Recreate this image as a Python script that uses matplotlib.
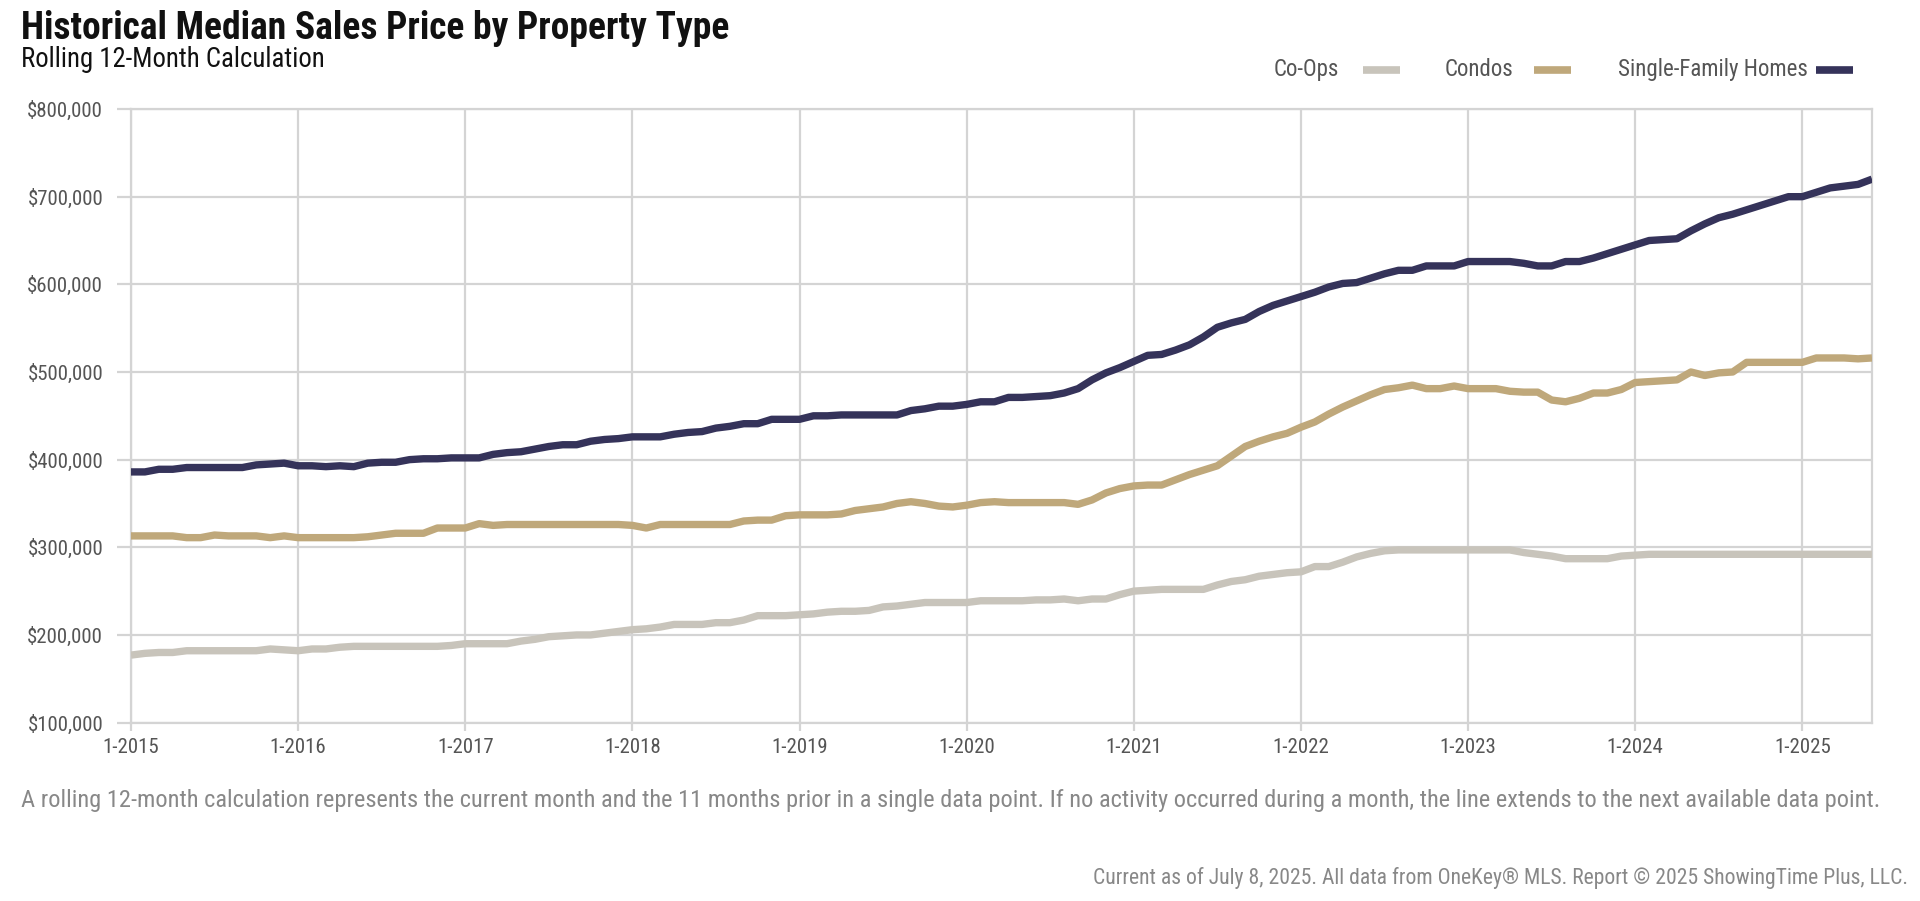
import matplotlib
matplotlib.use("Agg")
import matplotlib.pyplot as plt

# monthly values, 1-2015 .. 6-2025, in $ thousands
single_family = [
    386, 386, 389, 389, 391, 391, 391, 391, 391, 394, 395, 396,
    393, 393, 392, 393, 392, 396, 397, 397, 400, 401, 401, 402,
    402, 402, 406, 408, 409, 412, 415, 417, 417, 421, 423, 424,
    426, 426, 426, 429, 431, 432, 436, 438, 441, 441, 446, 446,
    446, 450, 450, 451, 451, 451, 451, 451, 456, 458, 461, 461,
    463, 466, 466, 471, 471, 472, 473, 476, 481, 491, 499, 505,
    512, 519, 520, 525, 531, 540, 551, 556, 560, 569, 576, 581,
    586, 591, 597, 601, 602, 607, 612, 616, 616, 621, 621, 621,
    626, 626, 626, 626, 624, 621, 621, 626, 626, 630, 635, 640,
    645, 650, 651, 652, 661, 669, 676, 680, 685, 690, 695, 700,
    700, 705, 710, 712, 714, 720,
]
condos = [
    313, 313, 313, 313, 311, 311, 314, 313, 313, 313, 311, 313,
    311, 311, 311, 311, 311, 312, 314, 316, 316, 316, 322, 322,
    322, 327, 325, 326, 326, 326, 326, 326, 326, 326, 326, 326,
    325, 322, 326, 326, 326, 326, 326, 326, 330, 331, 331, 336,
    337, 337, 337, 338, 342, 344, 346, 350, 352, 350, 347, 346,
    348, 351, 352, 351, 351, 351, 351, 351, 349, 354, 362, 367,
    370, 371, 371, 377, 383, 388, 393, 404, 415, 421, 426, 430,
    437, 443, 452, 460, 467, 474, 480, 482, 485, 481, 481, 484,
    481, 481, 481, 478, 477, 477, 468, 466, 470, 476, 476, 480,
    488, 489, 490, 491, 500, 496, 499, 500, 511, 511, 511, 511,
    511, 516, 516, 516, 515, 516,
]
co_ops = [
    177, 179, 180, 180, 182, 182, 182, 182, 182, 182, 184, 183,
    182, 184, 184, 186, 187, 187, 187, 187, 187, 187, 187, 188,
    190, 190, 190, 190, 193, 195, 198, 199, 200, 200, 202, 204,
    206, 207, 209, 212, 212, 212, 214, 214, 217, 222, 222, 222,
    223, 224, 226, 227, 227, 228, 232, 233, 235, 237, 237, 237,
    237, 239, 239, 239, 239, 240, 240, 241, 239, 241, 241, 246,
    250, 251, 252, 252, 252, 252, 257, 261, 263, 267, 269, 271,
    272, 278, 278, 283, 289, 293, 296, 297, 297, 297, 297, 297,
    297, 297, 297, 297, 294, 292, 290, 287, 287, 287, 287, 290,
    291, 292, 292, 292, 292, 292, 292, 292, 292, 292, 292, 292,
    292, 292, 292, 292, 292, 292,
]
series_names = ["Co-Ops", "Condos", "Single-Family Homes"]
x_labels = ["1-%d" % y for y in range(2015, 2026)]
y_ticks = [100000, 200000, 300000, 400000, 500000, 600000, 700000, 800000]

colors = {"Co-Ops": "#c8c4bb", "Condos": "#bfa87b", "Single-Family Homes": "#35335a"}
grid_c = "#d4d4d4"
text_c = "#555555"

plt.rcParams['font.family'] = ['Roboto Condensed', 'Archivo Narrow', 'Liberation Sans Narrow', 'DejaVu Sans']

fig = plt.figure(figsize=(19.2, 9.01), dpi=100)
ax = fig.add_axes([0.0682, 0.198, 0.9068, 0.681])

months = list(range(len(single_family)))
data = {"Co-Ops": co_ops, "Condos": condos, "Single-Family Homes": single_family}
for name in series_names:
    vals = [v * 1000 for v in data[name]]
    ax.plot(months, vals, color=colors[name], lw=5.3, solid_capstyle='butt', zorder=3)

ax.set_xlim(0, len(months) - 1)
ax.set_ylim(100000, 800000)
ax.set_xticks(range(0, len(months), 12))
ax.set_xticklabels(x_labels)
ax.set_yticks(y_ticks)
ax.set_yticklabels(["${:,}".format(v) for v in y_ticks])
ax.grid(True, color=grid_c, lw=1.6, zorder=0)
for s in ax.spines.values():
    s.set_color(grid_c)
    s.set_linewidth(1.6)
ax.tick_params(axis='y', length=10, width=1.6, color=grid_c, labelsize=15,
               labelcolor=text_c, pad=10)
ax.tick_params(axis='x', length=6, width=1.6, color=grid_c, labelsize=15,
               labelcolor=text_c, pad=5)

fig.text(0.011, 0.957, "Historical Median Sales Price by Property Type",
         fontsize=27, fontweight='bold', color='#111111', va='baseline')
fig.text(0.011, 0.926, "Rolling 12-Month Calculation",
         fontsize=19.3, color='#111111', va='baseline')

# legend, text then swatch
leg_y = 0.9225
items = [("Co-Ops", 0.6635, 0.710), ("Condos", 0.7526, 0.799), ("Single-Family Homes", 0.8425, 0.946)]
for name, tx, sx in items:
    fig.text(tx, leg_y, name, fontsize=16.5, color=text_c, va='center', ha='left')
    fig.add_artist(plt.Line2D([sx, sx + 0.019], [leg_y, leg_y], transform=fig.transFigure,
                              color=colors[name], lw=5.5, solid_capstyle='butt'))

fig.text(0.011, 0.112,
         "A rolling 12-month calculation represents the current month and the 11 months prior in a single data point. "
         "If no activity occurred during a month, the line extends to the next available data point.",
         fontsize=17.6, color='#888888', va='center')
fig.text(0.994, 0.026,
         "Current as of July 8, 2025. All data from OneKey\u00ae MLS. Report \u00a9 2025 ShowingTime Plus, LLC.",
         fontsize=15.6, color='#888888', va='center', ha='right')

fig.savefig("out.png", dpi=100)
